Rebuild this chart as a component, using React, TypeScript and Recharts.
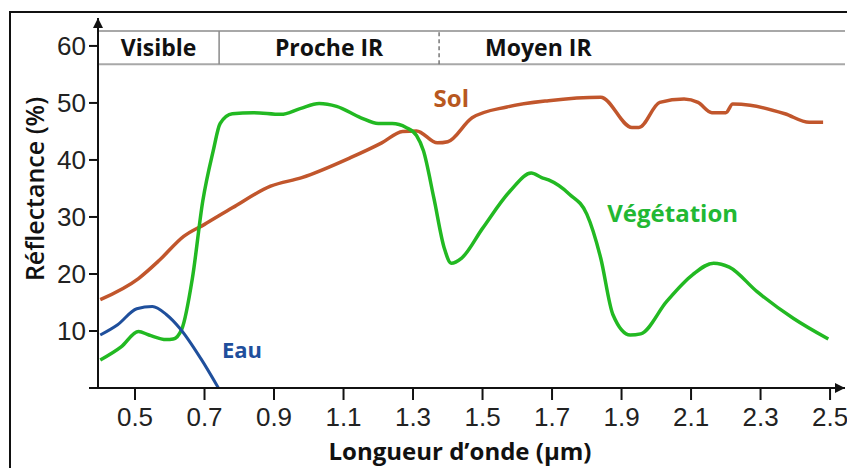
import {
  LineChart,
  Line,
  XAxis,
  YAxis,
  ReferenceLine,
  ReferenceArea,
  ReferenceDot,
} from 'recharts';

// Longueur d'onde (µm) / réflectance (%)
const solWl = [0.40, 0.51, 0.57, 0.64, 0.70, 0.78, 0.89, 0.98, 1.12, 1.21, 1.27, 1.31, 1.37, 1.40, 1.47, 1.57, 1.69, 1.84, 1.93, 1.95, 2.01, 2.08, 2.12, 2.16, 2.20, 2.22, 2.27, 2.37, 2.44, 2.48];
const solR = [15.5, 19.2, 22.4, 26.6, 28.7, 31.6, 35.4, 36.9, 40.4, 43.0, 45.0, 45.1, 43.0, 43.2, 47.4, 49.3, 50.4, 51.0, 45.7, 45.7, 50.1, 50.7, 50.1, 48.3, 48.3, 49.8, 49.6, 48.1, 46.6, 46.6];

const vegWl = [0.40, 0.46, 0.51, 0.54, 0.59, 0.61, 0.635, 0.665, 0.695, 0.725, 0.745, 0.78, 0.84, 0.92, 0.975, 1.03, 1.08, 1.15, 1.20, 1.24, 1.28, 1.31, 1.33, 1.36, 1.39, 1.41, 1.44, 1.50, 1.58, 1.64, 1.67, 1.69, 1.75, 1.80, 1.84, 1.875, 1.925, 1.955, 2.03, 2.105, 2.165, 2.21, 2.29, 2.395, 2.495];
const vegR = [4.9, 7.2, 9.9, 9.3, 8.5, 8.6, 10.4, 19.2, 32.8, 41.6, 46.4, 48.1, 48.3, 48.0, 49.0, 49.9, 49.4, 47.4, 46.4, 46.4, 45.7, 44.3, 41.6, 33.3, 24.5, 21.9, 22.8, 28.0, 34.6, 37.7, 36.9, 36.5, 34.0, 30.5, 22.8, 12.9, 9.3, 9.5, 15.2, 19.9, 21.9, 21.2, 16.9, 12.2, 8.6];

const eauWl = [0.40, 0.45, 0.505, 0.55, 0.59, 0.63, 0.69, 0.74];
const eauR = [9.3, 11.1, 13.9, 14.3, 12.9, 10.4, 5.1, 0];

const xTicks = [0.5, 0.7, 0.9, 1.1, 1.3, 1.5, 1.7, 1.9, 2.1, 2.3, 2.5];
const yTicks = [0, 10, 20, 30, 40, 50, 60];

// domaines spectraux (bornes en µm) et bandeau du haut
const bandNames = ['Visible', 'Proche IR', 'Moyen IR'];
const bandEdges = [0.3935, 0.742, 1.375, 2.543];
const bandRange = [56.8, 62.6];

const toPoints = (xs: number[], ys: number[]) => xs.map((x, i) => ({ x, y: ys[i] }));

const solData = toPoints(solWl, solR);
const vegData = toPoints(vegWl, vegR);
const eauData = toPoints(eauWl, eauR);

const SANS = "'Open Sans', sans-serif";
const ARIAL = "'Liberation Sans', Arial, sans-serif";

const SOL = '#C1562C';
const VEG = '#22B922';
const EAU = '#1F4F9C';

function XTitle() {
  return (
    <text x={460} y={460} textAnchor="middle" fontFamily={SANS} fontWeight={700} fontSize={24} fill="#111">
      Longueur d’onde (µm)
    </text>
  );
}

function YTitle() {
  return (
    <text
      x={44}
      y={189}
      transform="rotate(-90 44 189)"
      textAnchor="middle"
      fontFamily={SANS}
      fontWeight={600}
      fontSize={25}
      fill="#111"
    >
      Réflectance (%)
    </text>
  );
}

export default function App() {
  const bandLabel = { fill: '#111', fontSize: 23, fontWeight: 700, fontFamily: SANS };
  return (
    <div style={{ position: 'absolute', left: 0, top: 0, width: 847, height: 468, overflow: 'hidden', background: '#fff' }}>
      <div
        style={{
          position: 'absolute',
          left: 9,
          top: 11,
          width: 1000,
          height: 1000,
          borderLeft: '2.5px solid #111',
          borderTop: '2.5px solid #111',
        }}
      />
      <div style={{ position: 'absolute', left: 0, top: 0 }}>
        <LineChart width={847} height={468} margin={{ top: 18, right: 2, bottom: 0, left: 0 }}>
          <defs>
            <marker id="axisArrow" viewBox="0 0 10 10" refX="10" refY="5" markerWidth="5" markerHeight="5" orient="auto-start-reverse">
              <path d="M0,0 L10,5 L0,10 z" fill="#111" />
            </marker>
          </defs>
          <XAxis
            type="number"
            dataKey="x"
            domain={[bandEdges[0], bandEdges[3]]}
            allowDataOverflow
            ticks={xTicks}
            interval={0}
            tickFormatter={(v) => v.toFixed(1)}
            tickSize={12}
            tickMargin={8}
            height={80}
            axisLine={{ stroke: '#111', strokeWidth: 2, markerEnd: 'url(#axisArrow)' }}
            tickLine={{ stroke: '#111', strokeWidth: 2 }}
            tick={{ fill: '#222', fontSize: 26, fontFamily: ARIAL }}
            label={{ content: () => <XTitle /> }}
          />
          <YAxis
            type="number"
            domain={[0, 64.9]}
            allowDataOverflow
            ticks={yTicks}
            interval={0}
            tickFormatter={(v) => (v === 0 ? '' : String(v))}
            width={98}
            tickSize={9}
            tickMargin={3}
            axisLine={{ stroke: '#111', strokeWidth: 2, markerStart: 'url(#axisArrow)' }}
            tickLine={{ stroke: '#111', strokeWidth: 2 }}
            tick={{ fill: '#222', fontSize: 26, fontFamily: ARIAL }}
            label={{ content: () => <YTitle /> }}
          />

          {/* bandeau Visible / Proche IR / Moyen IR */}
          <ReferenceLine y={bandRange[1]} stroke="#a8a8a8" strokeWidth={2} />
          <ReferenceLine y={bandRange[0]} stroke="#a8a8a8" strokeWidth={2} />
          <ReferenceLine
            segment={[{ x: bandEdges[1], y: bandRange[0] }, { x: bandEdges[1], y: bandRange[1] }]}
            stroke="#8a8a8a"
            strokeWidth={1.5}
          />
          <ReferenceLine
            segment={[{ x: bandEdges[2], y: bandRange[0] }, { x: bandEdges[2], y: bandRange[1] }]}
            stroke="#777"
            strokeWidth={1.5}
            strokeDasharray="4 3"
          />
          <ReferenceArea
            x1={bandEdges[0]}
            x2={bandEdges[1]}
            y1={bandRange[0]}
            y2={bandRange[1]}
            fillOpacity={0}
            strokeOpacity={0}
            label={{ value: bandNames[0], position: 'center', ...bandLabel }}
          />
          <ReferenceArea
            x1={bandEdges[1]}
            x2={bandEdges[2]}
            y1={bandRange[0]}
            y2={bandRange[1]}
            fillOpacity={0}
            strokeOpacity={0}
            label={{ value: bandNames[1], position: 'center', ...bandLabel }}
          />
          <ReferenceArea
            x1={bandEdges[2]}
            x2={bandEdges[3]}
            y1={bandRange[0]}
            y2={bandRange[1]}
            fillOpacity={0}
            strokeOpacity={0}
            label={{ value: bandNames[2], position: 'insideLeft', offset: 46, ...bandLabel }}
          />

          <Line data={solData} dataKey="y" type="monotone" stroke={SOL} strokeWidth={3.5} dot={false} isAnimationActive={false} />
          <Line data={vegData} dataKey="y" type="monotone" stroke={VEG} strokeWidth={3.5} dot={false} isAnimationActive={false} />
          <Line data={eauData} dataKey="y" type="monotone" stroke={EAU} strokeWidth={3} dot={false} isAnimationActive={false} />

          <ReferenceDot x={1.41} y={50.7} r={0} label={{ value: 'Sol', position: 'center', fill: '#B8581F', fontSize: 24, fontWeight: 700, fontFamily: SANS }} />
          <ReferenceDot x={2.047} y={30.6} r={0} label={{ value: 'Végétation', position: 'center', fill: '#22B833', fontSize: 24, fontWeight: 700, fontFamily: SANS }} />
          <ReferenceDot x={0.808} y={6.7} r={0} label={{ value: 'Eau', position: 'center', fill: EAU, fontSize: 22, fontWeight: 700, fontFamily: SANS }} />
        </LineChart>
      </div>
    </div>
  );
}
